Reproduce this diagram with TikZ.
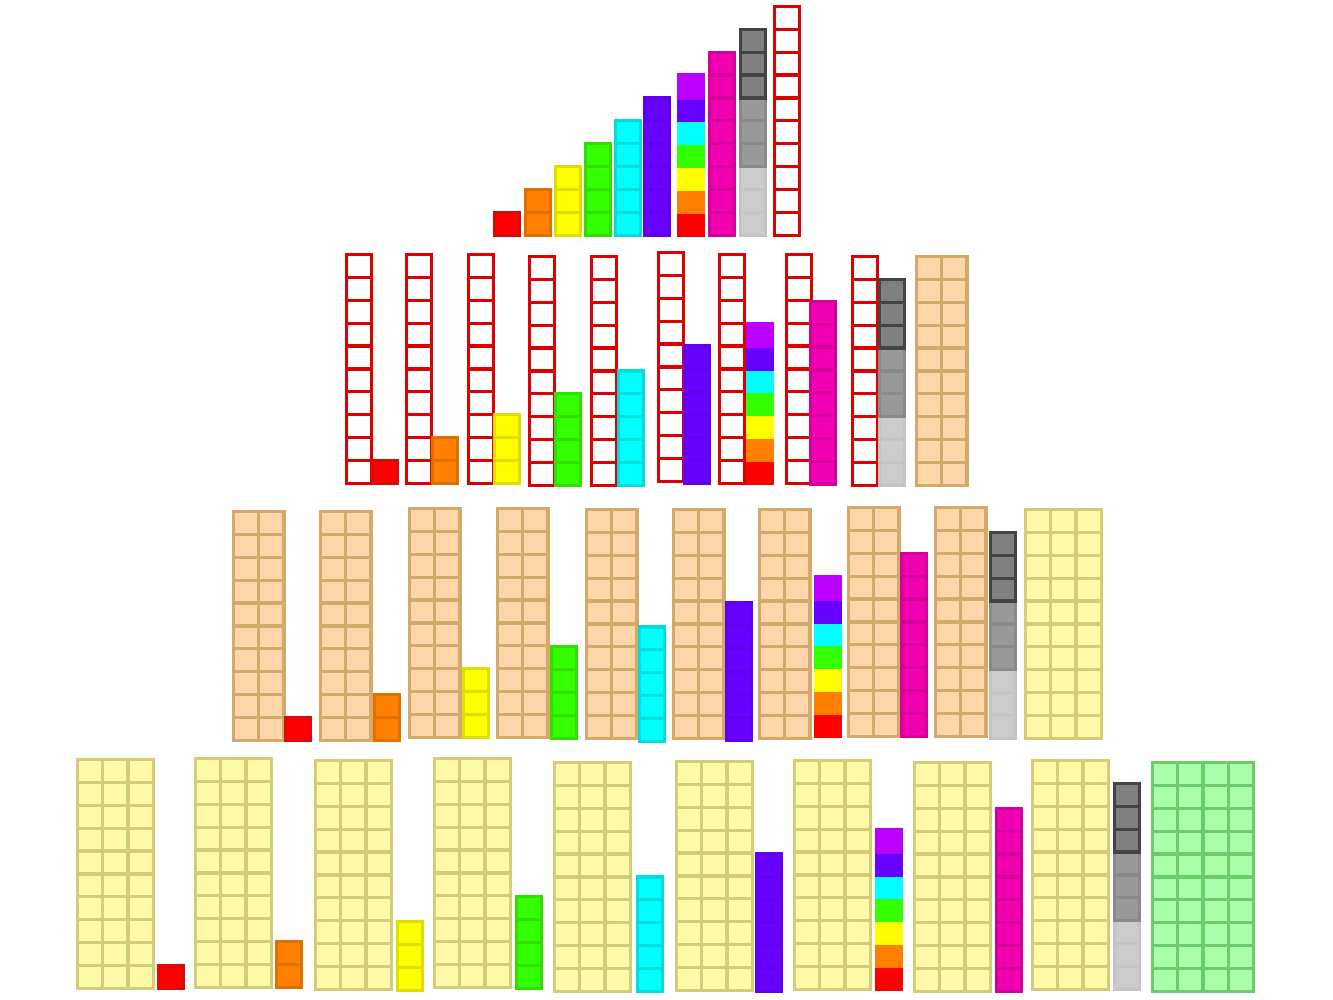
\documentclass[tikz,border=0pt]{standalone}
\definecolor{rF}{HTML}{FF0000}\definecolor{rD}{HTML}{DD0A0A}
\definecolor{oF}{HTML}{FF7F00}\definecolor{oD}{HTML}{E07000}
\definecolor{yF}{HTML}{FFFF00}\definecolor{yD}{HTML}{DEDE00}
\definecolor{gF}{HTML}{33FF00}\definecolor{gD}{HTML}{33DD00}
\definecolor{cF}{HTML}{00FFFF}\definecolor{cD}{HTML}{00DDDD}
\definecolor{vF}{HTML}{6600FF}\definecolor{vD}{HTML}{6000EE}
\definecolor{pF}{HTML}{BB00FF}
\definecolor{mF}{HTML}{F000B0}\definecolor{mD}{HTML}{D4009A}
\definecolor{glF}{HTML}{CCCCCC}\definecolor{glD}{HTML}{C4C4C4}
\definecolor{gmF}{HTML}{999999}\definecolor{gmD}{HTML}{8A8A8A}
\definecolor{gdF}{HTML}{808080}\definecolor{gdD}{HTML}{444444}
\definecolor{wD}{HTML}{DD0000}
\definecolor{peF}{HTML}{FFD6AA}\definecolor{peD}{HTML}{D4AA6A}
\definecolor{pyF}{HTML}{FFFAAA}\definecolor{pyD}{HTML}{D6CC77}
\definecolor{pgF}{HTML}{AAFFAA}\definecolor{pgD}{HTML}{6ACC6A}
\def\cellw{25.2}
\def\cellh{22.9}
\tikzset{cellline/.style={line width=3.2pt}}
\newcommand{\mycell}[5]{\draw[cellline,fill=#4,draw=#5] ({#1},{#2-(#3-1)*\cellh}) rectangle ({#1+\cellw},{#2-(#3)*\cellh});}
\newcommand{\rod}[5]{\foreach \k in {1,...,#3}{\mycell{#1+1.6}{#2-1.6}{\k}{#4}{#5}}}
\newcommand{\blk}[5]{\foreach \j in {1,...,#3}{\rod{#1+(\j-1)*\cellw}{#2}{10}{#4}{#5}}}
\newcommand{\mixrod}[2]{\foreach \k/\f/\d in {1/rF/rF,2/oF/oF,3/yF/yF,4/gF/gF,5/cF/cF,6/vF/vF,7/pF/pF}{\mycell{#1+1.6}{#2-1.6}{\k}{\f}{\d}}}
\newcommand{\grayrod}[2]{\foreach \k/\f/\d in {1/glF/glD,2/glF/glD,3/glF/glD,4/gmF/gmD,5/gmF/gmD,6/gmF/gmD,7/gdF/gdD,8/gdF/gdD,9/gdF/gdD}{\mycell{#1+1.6}{#2-1.6}{\k}{\f}{\d}}}
\newcommand{\whrod}[2]{\rod{#1}{#2}{10}{white}{wD}}
\begin{document}
\begin{tikzpicture}[x=1pt,y=-1pt]
\useasboundingbox[fill=white] (0,0) rectangle (1333,1000);
% row 1
\rod{493}{237}{1}{rF}{rD}
\rod{524}{237}{2}{oF}{oD}
\rod{554}{237}{3}{yF}{yD}
\rod{584}{237}{4}{gF}{gD}
\rod{614}{237}{5}{cF}{cD}
\rod{643}{237}{6}{vF}{vD}
\mixrod{677}{237}
\rod{708}{237}{8}{mF}{mD}
\grayrod{739}{237}
\whrod{773}{237}
% row 2
\whrod{345}{485} \rod{371}{485}{1}{rF}{rD}
\whrod{405}{485} \rod{431}{485}{2}{oF}{oD}
\whrod{467}{485} \rod{493}{485}{3}{yF}{yD}
\whrod{528}{487} \rod{554}{487}{4}{gF}{gD}
\whrod{590}{487} \rod{617}{487}{5}{cF}{cD}
\whrod{657}{483} \rod{683}{485}{6}{vF}{vD}
\whrod{718}{485} \mixrod{746}{485}
\whrod{785}{485} \rod{809}{486}{8}{mF}{mD}
\whrod{851}{487} \grayrod{878}{487}
\blk{915}{487}{2}{peF}{peD}
% row 3
\blk{232}{742}{2}{peF}{peD} \rod{284}{742}{1}{rF}{rD}
\blk{319}{742}{2}{peF}{peD} \rod{373}{742}{2}{oF}{oD}
\blk{408}{739}{2}{peF}{peD} \rod{462}{739}{3}{yF}{yD}
\blk{496}{739}{2}{peF}{peD} \rod{550}{740}{4}{gF}{gD}
\blk{585}{740}{2}{peF}{peD} \rod{638}{743}{5}{cF}{cD}
\blk{672}{740}{2}{peF}{peD} \rod{725}{742}{6}{vF}{vD}
\blk{758}{740}{2}{peF}{peD} \mixrod{814}{738}
\blk{847}{738}{2}{peF}{peD} \rod{900}{738}{8}{mF}{mD}
\blk{934}{738}{2}{peF}{peD} \grayrod{989}{740}
\blk{1024}{740}{3}{pyF}{pyD}
% row 4
\blk{76}{990}{3}{pyF}{pyD} \rod{157}{990}{1}{rF}{rD}
\blk{194}{989}{3}{pyF}{pyD} \rod{275}{989}{2}{oF}{oD}
\blk{314}{991}{3}{pyF}{pyD} \rod{396}{992}{3}{yF}{yD}
\blk{433}{989}{3}{pyF}{pyD} \rod{515}{990}{4}{gF}{gD}
\blk{553}{993}{3}{pyF}{pyD} \rod{636}{993}{5}{cF}{cD}
\blk{675}{992}{3}{pyF}{pyD} \rod{755}{993}{6}{vF}{vD}
\blk{793}{991}{3}{pyF}{pyD} \mixrod{875}{991}
\blk{913}{993}{3}{pyF}{pyD} \rod{995}{993}{8}{mF}{mD}
\blk{1031}{991}{3}{pyF}{pyD} \grayrod{1113}{991}
\blk{1151}{993}{4}{pgF}{pgD}
\end{tikzpicture}
\end{document}
